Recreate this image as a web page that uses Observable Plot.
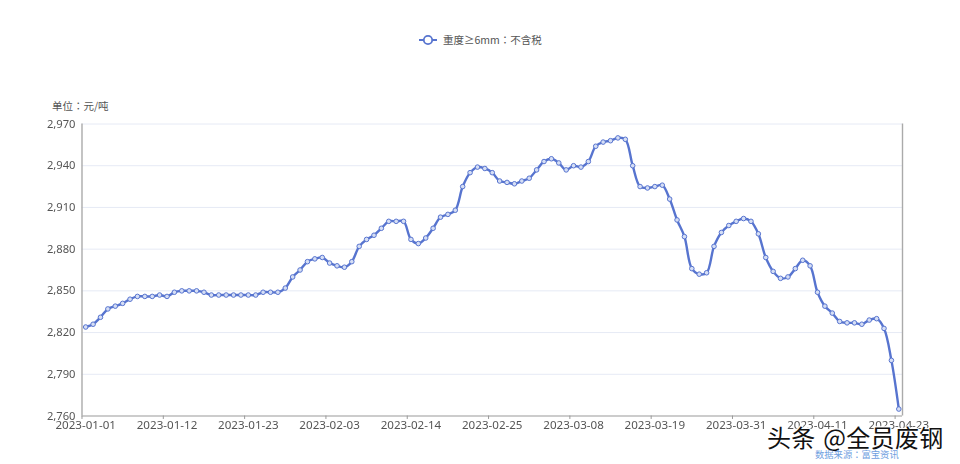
<!DOCTYPE html>
<html><head><meta charset="utf-8">
<script src="https://cdn.jsdelivr.net/npm/d3@7"></script>
<script src="https://cdn.jsdelivr.net/npm/@observablehq/plot@0.6"></script>
<style>
html,body{margin:0;padding:0;background:#fff;width:960px;height:464px;overflow:hidden}
#wrap{position:relative;width:960px;height:464px;font-family:"Noto Sans CJK TC","Noto Sans",sans-serif}
.a{position:absolute;white-space:nowrap}
</style></head><body>
<div id="wrap"></div>
<script>
const dates = [
"2023-01-01","2023-01-02","2023-01-03","2023-01-04","2023-01-05","2023-01-06","2023-01-07","2023-01-08","2023-01-09","2023-01-10",
"2023-01-11","2023-01-12","2023-01-13","2023-01-14","2023-01-15","2023-01-16","2023-01-17","2023-01-18","2023-01-19","2023-01-20",
"2023-01-21","2023-01-22","2023-01-23","2023-01-24","2023-01-25","2023-01-26","2023-01-27","2023-01-28","2023-01-29","2023-01-30",
"2023-01-31","2023-02-01","2023-02-02","2023-02-03","2023-02-04","2023-02-05","2023-02-06","2023-02-07","2023-02-08","2023-02-09",
"2023-02-10","2023-02-11","2023-02-12","2023-02-13","2023-02-14","2023-02-15","2023-02-16","2023-02-17","2023-02-18","2023-02-19",
"2023-02-20","2023-02-21","2023-02-22","2023-02-23","2023-02-24","2023-02-25","2023-02-26","2023-02-27","2023-02-28","2023-03-01",
"2023-03-02","2023-03-03","2023-03-04","2023-03-05","2023-03-06","2023-03-07","2023-03-08","2023-03-09","2023-03-10","2023-03-11",
"2023-03-12","2023-03-13","2023-03-14","2023-03-15","2023-03-16","2023-03-17","2023-03-18","2023-03-19","2023-03-20","2023-03-21",
"2023-03-22","2023-03-23","2023-03-24","2023-03-25","2023-03-27","2023-03-28","2023-03-29","2023-03-30","2023-03-31","2023-04-01",
"2023-04-02","2023-04-03","2023-04-04","2023-04-05","2023-04-06","2023-04-07","2023-04-08","2023-04-09","2023-04-10","2023-04-11",
"2023-04-12","2023-04-13","2023-04-14","2023-04-15","2023-04-17","2023-04-18","2023-04-19","2023-04-20","2023-04-21","2023-04-22",
"2023-04-23"];
const prices = [
2824,2826,2831,2837,2839,2841,2844,2846,2846,2846,
2847,2846,2849,2850,2850,2850,2849,2847,2847,2847,
2847,2847,2847,2847,2849,2849,2849,2852,2860,2865,
2871,2873,2874,2870,2868,2867,2871,2882,2887,2890,
2895,2900,2900,2900,2887,2884,2888,2895,2903,2905,
2908,2925,2935,2939,2938,2935,2929,2928,2927,2929,
2931,2937,2943,2945,2942,2937,2940,2939,2943,2954,
2957,2958,2960,2959,2940,2925,2924,2925,2926,2916,
2901,2889,2866,2862,2863,2882,2892,2897,2900,2902,
2900,2891,2874,2864,2859,2860,2866,2872,2868,2849,
2839,2834,2828,2827,2827,2826,2829,2830,2823,2800,
2765];
const xTicks = ["2023-01-01","2023-01-12","2023-01-23","2023-02-03","2023-02-14","2023-02-25","2023-03-08","2023-03-19","2023-03-31","2023-04-11","2023-04-23"];
const yTicks = [2760,2790,2820,2850,2880,2910,2940,2970];
const seriesName = "重度≥6mm：不含税";
const unitLabel = "单位：元/吨";
const sourceLabel = "数据来源：富宝资讯";
const watermark = "头条 @全员废钢";

const rows = dates.map((d,i)=>({d,v:prices[i]}));
const blue = "#5774cf";
const plot = Plot.plot({
  width:960, height:464,
  marginLeft:81.5, marginRight:58, marginTop:123.5, marginBottom:48.5,
  style:{background:"transparent",fontFamily:'"Noto Sans","Noto Sans CJK SC",sans-serif',fontSize:"12px",color:"#555",filter:"blur(0.3px)"},
  x:{type:"band",domain:dates,padding:0,label:null},
  y:{domain:[2760,2970],label:null},
  marks:[
    Plot.ruleY(yTicks.filter(t=>t>2760),{y:d=>d,stroke:"#e6eaf5",strokeWidth:1}),
    Plot.axisY({ticks:yTicks,tickFormat:d3.format(","),tickSize:0,tickPadding:6.5,label:null,fill:"#555",fontSize:11.2}),
    Plot.axisX({ticks:xTicks,tickSize:0,tickPadding:5,label:null,fill:"#555",fontSize:11.6}),
    Plot.ruleX(xTicks,{x:d=>d,dx:-3.7,y1:()=>2760,y2:()=>2757.5,stroke:"#999",strokeWidth:1}),
    Plot.ruleY([2760],{stroke:"#999",strokeWidth:1}),
    Plot.ruleX([dates[0]],{dx:-3.7,stroke:"#aaa",strokeWidth:1.4}),
    Plot.ruleX([dates[dates.length-1]],{dx:3.7,stroke:"#aaa",strokeWidth:1.4}),
    Plot.line(rows,{x:"d",y:"v",stroke:blue,strokeWidth:2.4,curve:"catmull-rom"}),
    Plot.dot(rows,{x:"d",y:"v",r:2.3,fill:"#d5def5",stroke:blue,strokeWidth:1})
  ]
});
const wrap = document.getElementById("wrap");
wrap.appendChild(plot);
plot.style.position="absolute";plot.style.left="0";plot.style.top="0";
function add(text,css){const e=document.createElement("div");e.className="a";e.textContent=text;e.style.cssText=css;wrap.appendChild(e);return e;}
add(unitLabel,"left:52px;top:99px;font-size:10.5px;line-height:14px;color:#555");
add(seriesName,"left:443px;top:32px;font-size:10.5px;line-height:15px;color:#555");
const lg=document.createElementNS("http://www.w3.org/2000/svg","svg");
lg.setAttribute("width","20");lg.setAttribute("height","14");
lg.style.cssText="position:absolute;left:418px;top:33px";
lg.innerHTML=`<line x1="1" x2="19" y1="7" y2="7" stroke="${blue}" stroke-width="2"/><circle cx="10" cy="7" r="4.2" fill="#fff" stroke="${blue}" stroke-width="1.8"/>`;
wrap.appendChild(lg);
add(watermark,"left:767px;top:423px;font-size:24px;line-height:28px;color:#111;font-family:'Noto Sans CJK SC';font-weight:400;word-spacing:2px;letter-spacing:0.3px;text-shadow:0 0 2px #fff,0 0 2px #fff,1px 1px 1px #fff,-1px -1px 1px #fff,1px -1px 1px #fff,-1px 1px 1px #fff");
add(sourceLabel,"left:815px;top:448px;font-size:9.3px;line-height:13px;color:#6f9ee0");
</script>
</body></html>
